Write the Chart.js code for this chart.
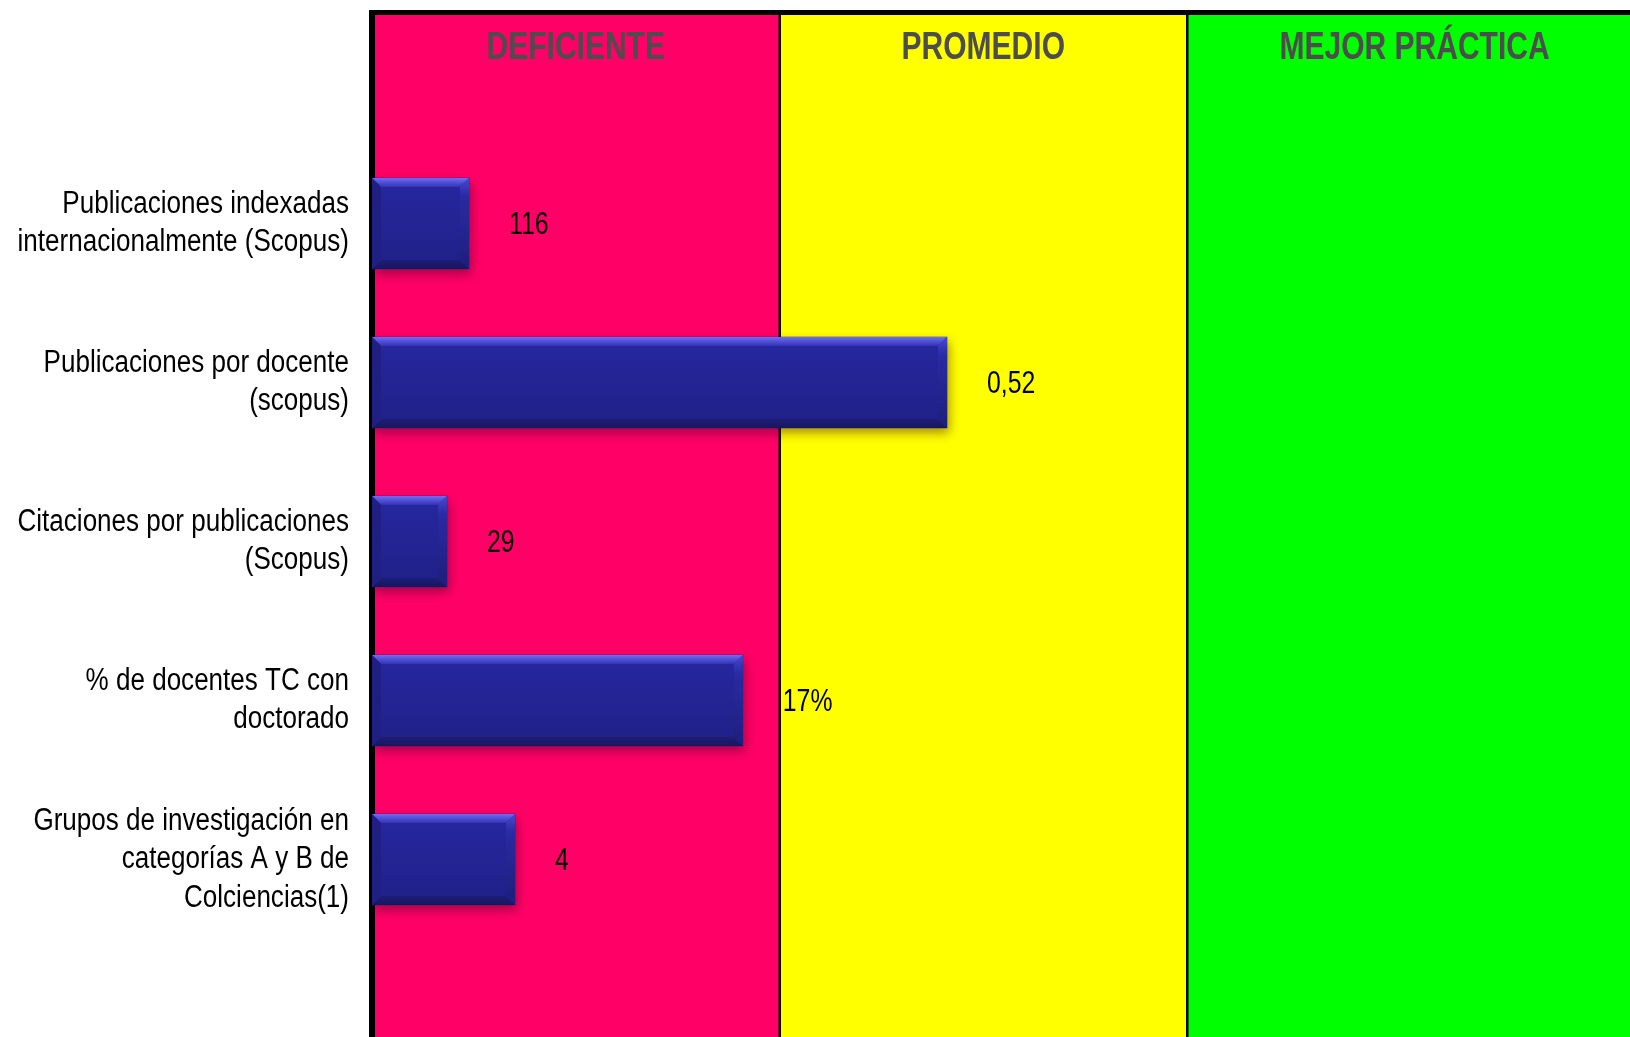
<!DOCTYPE html>
<html lang="es">
<head>
<meta charset="utf-8">
<title>Indicadores de investigación</title>
<script src="https://cdn.jsdelivr.net/npm/chart.js@4.4.1/dist/chart.umd.min.js"></script>
<style>
  html, body { margin: 0; padding: 0; background: #ffffff; }
  canvas { display: block; }
</style>
</head>
<body>
<canvas id="chart" width="1630" height="1037"></canvas>
<script>
// Indicators shown on the vertical axis (multi-line labels)
const categories = [
  ['Publicaciones indexadas', 'internacionalmente (Scopus)'],
  ['Publicaciones por docente', '(scopus)'],
  ['Citaciones por publicaciones', '(Scopus)'],
  ['% de docentes TC con', 'doctorado'],
  ['Grupos de investigación en', 'categorías A y B de', 'Colciencias(1)']
];

// Position of each indicator on the 0–3 performance scale
const scores = [0.238, 1.411, 0.184, 0.910, 0.351];

// Reported value of each indicator, printed next to its bar
const valueLabels = ['116', '0,52', '29', '17%', '4'];

// Performance bands along the horizontal scale
const bandNames  = ['DEFICIENTE', 'PROMEDIO', 'MEJOR PRÁCTICA'];
const bandLimits = [0, 1, 2, 3];
const bandColors = ['#ff0066', '#ffff00', '#00ff00'];

const FONT = '"Liberation Sans", Arial, sans-serif';
const NARROW = 0.82;          // horizontal squeeze for a narrow face
const FRAME_TOP = 10;

// Draws text squeezed horizontally around its anchor point
function narrowText(ctx, text, x, y, sx) {
  ctx.save();
  ctx.translate(x, y);
  ctx.scale(sx, 1);
  ctx.fillText(text, 0, 0);
  ctx.restore();
}

const bandsPlugin = {
  id: 'bands',
  beforeDatasetsDraw(chart) {
    const { ctx, scales: { x, y }, width, height } = chart;
    ctx.save();
    const top = FRAME_TOP + 5;
    const bandEnd = i => (i === bandNames.length - 1 ? width : x.getPixelForValue(bandLimits[i + 1]));

    // coloured bands
    for (let i = 0; i < bandNames.length; i++) {
      const x0 = x.getPixelForValue(bandLimits[i]);
      ctx.fillStyle = bandColors[i];
      ctx.fillRect(x0, top, bandEnd(i) - x0, height - top);
    }
    // separators between bands
    ctx.fillStyle = '#000000';
    for (let i = 1; i < bandNames.length; i++) {
      const xs = x.getPixelForValue(bandLimits[i]);
      ctx.fillRect(xs - 1, top, 2.5, height - top);
    }
    // top frame and left axis line
    const left = x.getPixelForValue(bandLimits[0]);
    ctx.fillRect(left - 3, FRAME_TOP, width - left + 3, 5);
    ctx.fillRect(left - 3, FRAME_TOP, 6, height - FRAME_TOP);

    // band titles
    ctx.font = 'bold 38px ' + FONT;
    ctx.fillStyle = '#4d4d4d';
    ctx.textAlign = 'center';
    ctx.textBaseline = 'middle';
    for (let i = 0; i < bandNames.length; i++) {
      const x0 = x.getPixelForValue(bandLimits[i]);
      narrowText(ctx, bandNames[i], (x0 + bandEnd(i)) / 2 + (i === 2 ? 6 : 0), 49, 0.79);
    }

    // indicator names on the left, right-aligned against the axis
    ctx.font = '31px ' + FONT;
    ctx.fillStyle = '#000000';
    ctx.textAlign = 'right';
    ctx.textBaseline = 'middle';
    const lineH = 38.5;
    categories.forEach((lines, i) => {
      const yc = y.getPixelForTick(i);
      lines.forEach((line, k) => {
        const dy = (k - (lines.length - 1) / 2) * lineH;
        narrowText(ctx, line, left - 23, yc + dy, 0.84);
      });
    });
    ctx.restore();
  },
  beforeDatasetDraw(chart) {
    const ctx = chart.ctx;
    ctx.save();
    ctx.shadowColor = 'rgba(60, 0, 30, 0.45)';
    ctx.shadowBlur = 10;
    ctx.shadowOffsetX = 2;
    ctx.shadowOffsetY = 5;
  },
  afterDatasetDraw(chart) {
    chart.ctx.restore();
  },
  afterDatasetsDraw(chart) {
    const { ctx } = chart;
    const meta = chart.getDatasetMeta(0);
    ctx.save();
    meta.data.forEach((bar, i) => {
      const p = bar.getProps(['x', 'y', 'base', 'height'], true);
      const l = Math.min(p.base, p.x), r = Math.max(p.base, p.x);
      const t = p.y - p.height / 2, b = p.y + p.height / 2;
      const bv = 9;

      // face shading
      const face = ctx.createLinearGradient(0, t, 0, b);
      face.addColorStop(0, '#2727a0');
      face.addColorStop(1, '#202088');
      ctx.fillStyle = face;
      ctx.fillRect(l + bv, t + bv, r - l - 2 * bv, b - t - 2 * bv);

      // top bevel
      const tg = ctx.createLinearGradient(0, t, 0, t + bv);
      tg.addColorStop(0, '#6c6cf6');
      tg.addColorStop(1, '#3333b4');
      ctx.fillStyle = tg;
      ctx.beginPath();
      ctx.moveTo(l, t); ctx.lineTo(r, t); ctx.lineTo(r - bv, t + bv); ctx.lineTo(l + bv, t + bv);
      ctx.closePath(); ctx.fill();

      // right bevel
      const rg = ctx.createLinearGradient(0, t, 0, b);
      rg.addColorStop(0, '#4848d0');
      rg.addColorStop(0.2, '#2a2aa2');
      rg.addColorStop(1, '#1e1e7c');
      ctx.fillStyle = rg;
      ctx.beginPath();
      ctx.moveTo(r, t); ctx.lineTo(r, b); ctx.lineTo(r - bv, b - bv); ctx.lineTo(r - bv, t + bv);
      ctx.closePath(); ctx.fill();

      // bottom bevel
      const bg = ctx.createLinearGradient(0, b - bv, 0, b);
      bg.addColorStop(0, '#1d1d78');
      bg.addColorStop(1, '#17175e');
      ctx.fillStyle = bg;
      ctx.beginPath();
      ctx.moveTo(l, b); ctx.lineTo(r, b); ctx.lineTo(r - bv, b - bv); ctx.lineTo(l + bv, b - bv);
      ctx.closePath(); ctx.fill();

      // left bevel
      ctx.fillStyle = '#1f1f84';
      ctx.beginPath();
      ctx.moveTo(l, t); ctx.lineTo(l + bv, t + bv); ctx.lineTo(l + bv, b - bv); ctx.lineTo(l, b);
      ctx.closePath(); ctx.fill();

      // value label
      ctx.font = '31px ' + FONT;
      ctx.fillStyle = '#000000';
      ctx.textAlign = 'left';
      ctx.textBaseline = 'middle';
      narrowText(ctx, valueLabels[i], r + 40, p.y + 2, 0.8);
    });
    ctx.restore();
  }
};

new Chart(document.getElementById('chart'), {
  type: 'bar',
  data: {
    labels: categories,
    datasets: [{
      data: scores,
      backgroundColor: '#23239a',
      borderWidth: 0,
      barThickness: 91
    }]
  },
  options: {
    indexAxis: 'y',
    responsive: false,
    animation: false,
    devicePixelRatio: 1,
    layout: { padding: { top: 144, bottom: 98, right: 35.5, left: 0 } },
    plugins: {
      legend: { display: false },
      tooltip: { enabled: false },
      title: { display: false }
    },
    scales: {
      x: {
        min: 0,
        max: 3,
        display: false
      },
      y: {
        type: 'category',
        grid: { display: false, drawTicks: false },
        border: { display: false },
        ticks: { display: false },
        afterFit(scale) { scale.width = 372; }
      }
    }
  },
  plugins: [bandsPlugin]
});
</script>
</body>
</html>
